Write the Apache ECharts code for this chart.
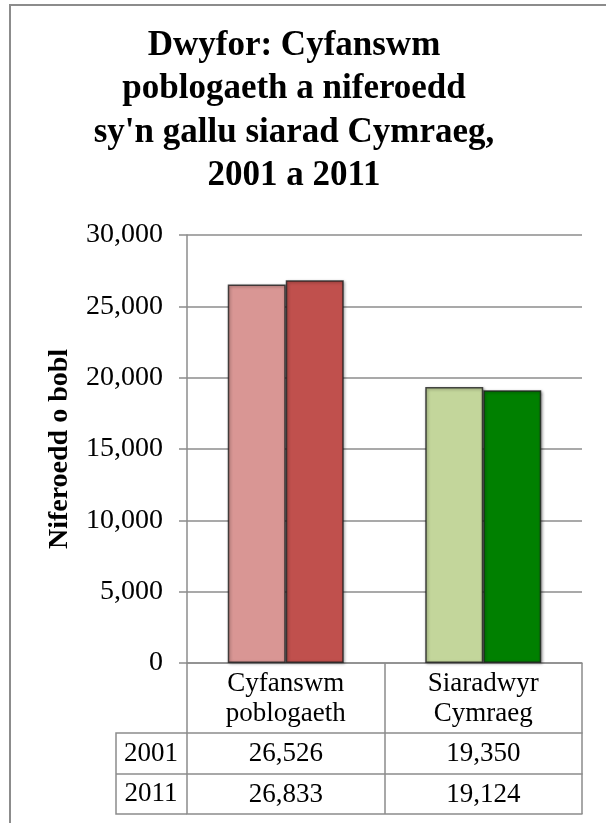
<!DOCTYPE html>
<html>
<head>
<meta charset="utf-8">
<script src="https://cdn.jsdelivr.net/npm/echarts@6/dist/echarts.min.js"></script>
<style>
  html, body { margin: 0; padding: 0; background: #fff; }
  #chart { width: 606px; height: 823px; }
</style>
</head>
<body>
<div id="chart"></div>
<script>
// Data
const categories = ["Cyfanswm\npoblogaeth", "Siaradwyr\nCymraeg"]
const years = ["2001", "2011"]
const values2001 = [26526, 19350]
const values2011 = [26833, 19124]
const colors2001 = ["#D99694", "#C3D69B"]
const colors2011 = ["#C0504D", "#008000"]
const yTicks = [0, 5000, 10000, 15000, 20000, 25000, 30000]

const font = "Liberation Serif"
const lineColor = "#8c8c8c"
const fmt = (v) => v.toLocaleString("en-US")

const chart = echarts.init(document.getElementById("chart"))

const barStyle = {
  borderColor: "rgba(30,30,30,0.8)",
  borderWidth: 1.5,
  shadowBlur: 3,
  shadowColor: "rgba(0,0,0,0.4)",
  shadowOffsetX: 1,
  shadowOffsetY: 1,
}

function tableAxis(offset, tickLen, labelFn) {
  return {
    type: "category",
    data: categories,
    position: "bottom",
    offset: offset,
    gridIndex: 0,
    axisLine: { show: true, lineStyle: { color: lineColor, width: 1.5 } },
    axisTick: { show: tickLen > 0, length: tickLen, lineStyle: { color: lineColor, width: 1.5 } },
    axisLabel: {
      show: !!labelFn,
      interval: 0,
      margin: 6,
      formatter: labelFn || (() => ""),
      fontFamily: font,
      fontSize: 27,
      lineHeight: 30,
      color: "#000",
    },
    splitLine: { show: false },
  }
}

const option = {
  backgroundColor: "#fff",
  animation: false,
  title: {
    text: "Dwyfor: Cyfanswm\npoblogaeth a niferoedd\nsy'n gallu siarad Cymraeg,\n2001 a 2011",
    left: 289,
    top: 19,
    textAlign: "center",
    textStyle: {
      fontFamily: font,
      fontWeight: "bold",
      fontSize: 35,
      lineHeight: 43.5,
      color: "#000",
    },
  },
  grid: { left: 187, right: 24, top: 235, bottom: 160 },
  xAxis: [
    tableAxis(0, 70, (v) => v),
    tableAxis(70, 41, (v, i) => fmt(values2001[i])),
    tableAxis(111, 40, (v, i) => fmt(values2011[i])),
    tableAxis(151, 0, null),
  ],
  yAxis: {
    type: "value",
    min: 0,
    max: 30000,
    interval: 5000,
    name: "Niferoedd o bobl",
    nameLocation: "middle",
    nameGap: 113,
    nameTextStyle: {
      fontFamily: font,
      fontWeight: "bold",
      fontSize: 28,
      color: "#000",
    },
    axisLine: { show: true, lineStyle: { color: lineColor, width: 1.5 } },
    axisTick: { show: true, length: 8, lineStyle: { color: lineColor, width: 1.5 } },
    axisLabel: {
      margin: 24,
      fontFamily: font,
      fontSize: 28,
      color: "#000",
      formatter: (v) => (yTicks.includes(v) ? fmt(v) : ""),
    },
    splitLine: { show: true, lineStyle: { color: lineColor, width: 1.5 } },
  },
  series: [
    {
      name: years[0],
      type: "bar",
      xAxisIndex: 0,
      barWidth: 58,
      barGap: "0%",
      data: values2001.map((v, i) => ({ value: v, itemStyle: { color: colors2001[i] } })),
      itemStyle: barStyle,
    },
    {
      name: years[1],
      type: "bar",
      xAxisIndex: 0,
      barWidth: 58,
      barGap: "0%",
      data: values2011.map((v, i) => ({ value: v, itemStyle: { color: colors2011[i] } })),
      itemStyle: barStyle,
    },
  ],
  graphic: [
    // outer chart border (runs off the right and bottom edges)
    {
      type: "rect",
      shape: { x: 10, y: 5, width: 620, height: 840 },
      style: { fill: "none", stroke: lineColor, lineWidth: 2 },
      silent: true,
    },
    // row header column of the data table
    {
      type: "polyline",
      shape: { points: [[187, 733], [116, 733], [116, 814], [187, 814]] },
      style: { fill: "none", stroke: lineColor, lineWidth: 1.5 },
      silent: true,
    },
    {
      type: "line",
      shape: { x1: 116, y1: 774, x2: 187, y2: 774 },
      style: { stroke: lineColor, lineWidth: 1.5 },
      silent: true,
    },
    {
      type: "text",
      x: 151,
      y: 754,
      style: { text: years[0], font: "27px " + font, fill: "#000", align: "center", verticalAlign: "middle" },
      silent: true,
    },
    {
      type: "text",
      x: 151,
      y: 794,
      style: { text: years[1], font: "27px " + font, fill: "#000", align: "center", verticalAlign: "middle" },
      silent: true,
    },
  ],
}

chart.setOption(option)
</script>
</body>
</html>
